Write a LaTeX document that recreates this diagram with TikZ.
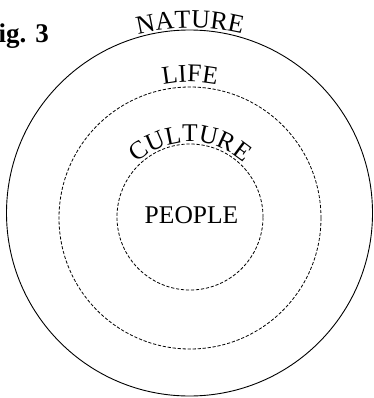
\documentclass[tikz,border=0pt]{standalone}
\usepackage{fontspec}
\setmainfont{Liberation Serif}
\usetikzlibrary{decorations.text}
\begin{document}
\begin{tikzpicture}[x=1pt,y=1pt,
  solidring/.style={draw=black,line width=0.9pt},
  dashring/.style={draw=black,line width=0.8pt,dash pattern=on 3.2pt off 1.8pt},
  arctext/.style={decorate,decoration={text along path,text align=center,text={#1}}}
]
\useasboundingbox (0,0) rectangle (373,-398);
% rings
\coordinate (c0) at (189.5,-213);
\coordinate (c1) at (190,-218);
\coordinate (c2) at (190,-217);
\draw[solidring] (c0) circle[radius=183];
\draw[dashring] (c1) circle[radius=131];
\draw[dashring] (c2) circle[radius=73];
% curved labels
\path[arctext={|\fontsize{26}{26}\selectfont|NATURE}]
  ([shift={(190,-248)}]130:220) arc[start angle=130,end angle=50,radius=220];
\path[arctext={|\fontsize{25.5}{25.5}\selectfont|LIFE}]
  ([shift={(190,-217)}]140:135) arc[start angle=140,end angle=40,radius=135];
\path[arctext={|\fontsize{25.5}{25.5}\selectfont|CULTURE}]
  ([shift={(190,-222)}]160:80) arc[start angle=160,end angle=20,radius=80];
% centre label
\node[inner sep=0pt,anchor=base,font=\fontsize{25.5}{25.5}\selectfont] (people) at (191.5,-223) {PEOPLE};
% figure label
\node[inner sep=0pt,anchor=base east,font=\fontsize{27}{27}\selectfont\bfseries] (fig) at (49,-43) {Fig. 3};
\end{tikzpicture}
\end{document}
